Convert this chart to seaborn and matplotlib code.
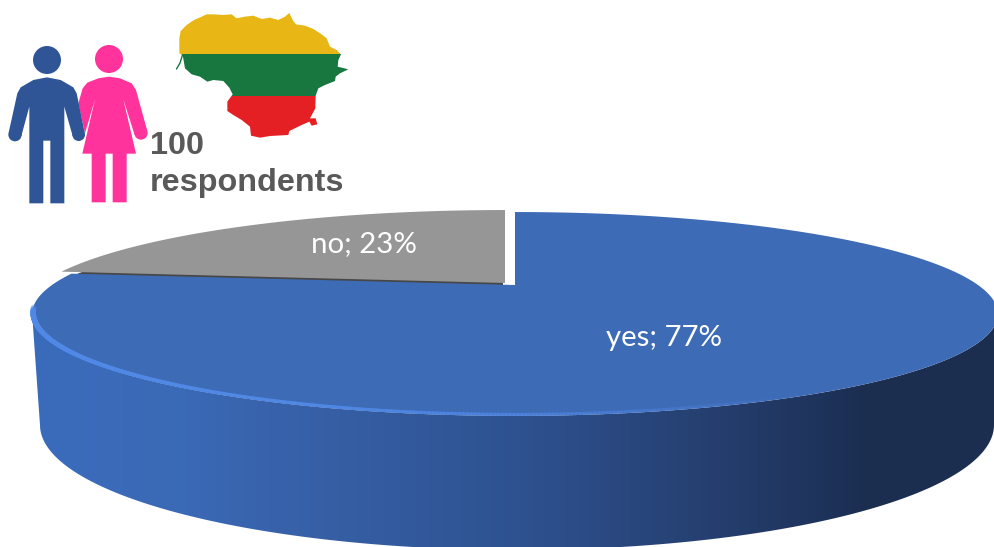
import numpy as np
import matplotlib
matplotlib.use("Agg")
import matplotlib.pyplot as plt
from matplotlib.collections import LineCollection
from matplotlib.colors import LinearSegmentedColormap, to_rgba
from matplotlib.patches import Circle, Polygon, Rectangle
import seaborn as sns

# Survey results
categories = ["yes", "no"]
shares = [77, 23]
respondents = 100

sns.set_theme(style="white")
palette = dict(zip(categories, sns.color_palette(["#3E6BB6", "#969696"])))
WALL_SHADES = ["#3A6CBC", "#3B69B5", "#355DA2", "#2E5290", "#253E6E", "#203660",
               "#1B2E50", "#1C2E50"]
WALL_STOPS = [0.0, 0.16, 0.334, 0.507, 0.715, 0.798, 0.871, 1.0]

fig = plt.figure(figsize=(9.94, 5.47), dpi=100, facecolor="white")
ax = fig.add_axes([0, 0, 1, 1])
ax.set_xlim(0, 994)
ax.set_ylim(547, 0)
ax.axis("off")

# Perspective projection of the unit disc onto the page
CX, CY = 515.0, 285.0
SCALE_X, SCALE_Y, TILT = 463.0, 93.7, 0.284


def project(theta_deg, radius=1.0, dx=0.0, dy=0.0):
    t = np.radians(theta_deg)
    u, v = radius * np.cos(t), radius * np.sin(t)
    w = 1 + TILT * v
    return CX + SCALE_X * u / w + dx, CY - SCALE_Y * v / w + dy


def wedge_outline(start, end, dx=0.0, dy=0.0):
    th = np.linspace(start, end, 240)
    x, y = project(th, dx=dx, dy=dy)
    return np.column_stack([np.r_[CX + dx, x], np.r_[CY + dy, y]])


# Slice angles run counter-clockwise from twelve o'clock; "no" comes first
no_sweep = shares[categories.index("no")] / sum(shares) * 360
no_start, no_end = 90.0, 90.0 + no_sweep
yes_start, yes_end = no_end, 450.0

# Cylinder wall of the "yes" slice, shaded from left to right
widest = np.degrees(np.arcsin(TILT))
front = np.linspace(180 + widest, 360 - widest, 300)
top_x, top_y = project(front)
bottom_t = np.linspace(0, np.pi, 300)
bottom_x = 517 + 477 * np.cos(bottom_t)
bottom_y = 425 + 125 * np.sin(bottom_t)
wall_xy = np.r_[np.column_stack([top_x, top_y]),
                np.column_stack([bottom_x, bottom_y])]
wall_clip = Polygon(wall_xy, closed=True, transform=ax.transData, fc="none", ec="none")
ax.add_patch(wall_clip)
wall_cmap = LinearSegmentedColormap.from_list("wall", list(zip(WALL_STOPS, WALL_SHADES)))
shade = ax.imshow(np.linspace(0, 1, 512)[None, :], cmap=wall_cmap, vmin=0, vmax=1,
                  extent=(32, 994, 547, 250), aspect="auto", zorder=1)
shade.set_clip_path(wall_clip)
ax.set_xlim(0, 994)
ax.set_ylim(547, 0)

# The "no" slice is pulled away from the centre, its thin cut face sits underneath
ax.add_patch(Polygon(wedge_outline(no_start, no_end, dx=-12, dy=8),
                     closed=True, fc="#474747", ec="none", zorder=2))
ax.add_patch(Polygon(wedge_outline(no_start, no_end, dx=-10, dy=-2),
                     closed=True, fc=palette["no"], ec="none", zorder=3))
ax.add_patch(Polygon(wedge_outline(yes_start, yes_end),
                     closed=True, fc=palette["yes"], ec="none", zorder=4))

# Bevel highlight along the front rim, fading out to the right
rim_th = np.linspace(193, 296, 300)
rim_x, rim_y = project(rim_th)
rim_pts = np.column_stack([rim_x + 1, rim_y - 1.5]).reshape(-1, 1, 2)
rim_segs = np.concatenate([rim_pts[:-1], rim_pts[1:]], axis=1)
rim_pos = np.linspace(0, 1, len(rim_segs))
rim_rgba = np.tile(to_rgba("#5088E6"), (len(rim_segs), 1))
rim_rgba[:, 3] = np.clip(rim_pos / 0.05, 0, 1) * np.clip((1 - rim_pos) / 0.45, 0, 1)
rim_width = 4.2 - 2.0 * np.clip(rim_pos / 0.5, 0, 1)
ax.add_collection(LineCollection(rim_segs, colors=rim_rgba, linewidths=rim_width,
                                 capstyle="round", zorder=5))

# Slice labels
label_style = dict(color="white", family="Lato", fontsize=21.2, ha="center", va="center", zorder=6)
for name, lx, ly in [("yes", 664, 338), ("no", 364, 244)]:
    ax.text(lx, ly, f"{name}; {shares[categories.index(name)]}%", **label_style)

# Respondent count caption
caption = dict(color="#595959", family="Liberation Sans", fontweight="bold", fontsize=23.3,
               ha="left", va="baseline", zorder=6)
ax.text(150, 154, str(respondents), **caption)
ax.text(150, 190.5, "respondents", **caption)


# Pictograms, outlined in a 3x grid
def glyph(points, color, z):
    pts = np.asarray(points, dtype=float) / 3
    ax.add_patch(Polygon(pts, closed=True, fc=color, ec="none", zorder=z))


def dot(x, y, r, color, z):
    ax.add_patch(Circle((x / 3, y / 3), r / 3, fc=color, ec="none", zorder=z))


WOMAN = "#FF339B"
MAN = "#2F5597"
dot(327, 177, 42, WOMAN, 7)
dot(423, 399, 20, WOMAN, 7)
glyph([(262, 248), (295, 235), (327, 230), (360, 235), (395, 250), (408, 270), (442, 393),
       (404, 405), (370, 298), (408, 461), (380, 461),
       (380, 607), (338, 607), (338, 461), (317, 461), (317, 607), (275, 607), (275, 461),
       (247, 461), (285, 298), (255, 400), (235, 310), (248, 265)], WOMAN, 7)
dot(141, 180, 42, MAN, 8)
dot(236, 404, 19, MAN, 8)
dot(45, 404, 20, MAN, 8)
glyph([(62, 262), (100, 240), (141, 232), (182, 240), (220, 262), (230, 280), (254, 398),
       (218, 408), (193, 320), (193, 610), (151, 610),
       (151, 422), (130, 422), (130, 610), (88, 610), (88, 320), (64, 408),
       (26, 398), (52, 280)], MAN, 8)

# Map outline filled with the three flag stripes
map_crop = np.array([
    (28, 100), (32, 78), (50, 60), (72, 45), (95, 35), (110, 28), (130, 28), (160, 30),
    (185, 28), (200, 40), (225, 35), (250, 32), (275, 42), (300, 38), (325, 45), (345, 35),
    (358, 24), (368, 45), (378, 58), (405, 62), (430, 72), (455, 88), (470, 100), (480, 125),
    (500, 135), (513, 148), (505, 165), (503, 185), (535, 193), (510, 205), (497, 215),
    (495, 228), (465, 240), (445, 250), (437, 272), (436, 310), (420, 340), (437, 340),
    (442, 358), (425, 362), (418, 350), (395, 360), (358, 378), (355, 390), (300, 393),
    (270, 398), (243, 392), (240, 365), (215, 345), (190, 330), (172, 318), (172, 290),
    (188, 268), (178, 248), (160, 228), (130, 225), (112, 230), (90, 215), (65, 208),
    (45, 190), (38, 150), (28, 145)], dtype=float)
outline = np.column_stack([170 + map_crop[:, 0] / 3, 5 + map_crop[:, 1] / 3])
map_clip = Polygon(outline, closed=True, transform=ax.transData, fc="none", ec="none")
ax.add_patch(map_clip)
for y0, y1, stripe in [(10, 54.3, "#E8B716"), (54.3, 95.7, "#17773F"), (95.7, 140, "#E42025")]:
    band = Rectangle((170, y0), 190, y1 - y0, fc=stripe, ec="none", zorder=7)
    ax.add_patch(band)
    band.set_clip_path(map_clip)
ax.plot([182.5, 180, 176.5], [55, 63, 69], color="#17773F", lw=1, zorder=7)

fig.savefig("out.png", dpi=100)
